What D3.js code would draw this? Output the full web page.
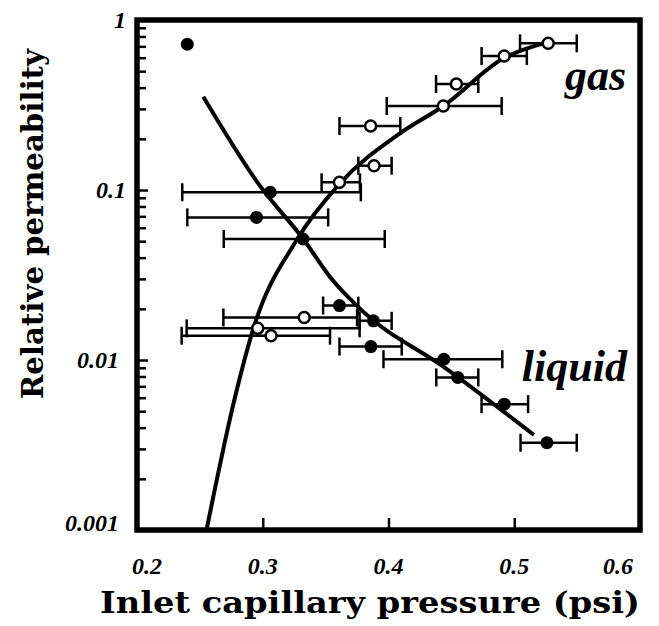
<!DOCTYPE html>
<html>
<head>
<meta charset="utf-8">
<script src="https://cdn.jsdelivr.net/npm/d3@7/dist/d3.min.js"></script>
<style>
  body { margin: 0; background: #fff; }
  svg { display: block; }
</style>
</head>
<body>
<div id="chart"></div>
<script>
// liquid relative permeability (filled circles) with x error bars
var liquidX  = [0.240, 0.306, 0.295, 0.332, 0.361, 0.388, 0.386, 0.444, 0.455, 0.492, 0.526];
var liquidY  = [0.72, 0.097, 0.069, 0.0515, 0.0209, 0.0170, 0.0120, 0.0101, 0.0079, 0.0055, 0.00326];
var liquidLo = [null, 0.236, 0.240, 0.269, 0.348, 0.377, 0.361, 0.396, 0.438, 0.474, 0.505];
var liquidHi = [null, 0.378, 0.352, 0.397, 0.376, 0.4025, 0.4105, 0.4905, 0.4714, 0.511, 0.5497];

// gas relative permeability (open circles) with x error bars
var gasX  = [0.527, 0.492, 0.454, 0.4436, 0.3858, 0.3885, 0.361, 0.333, 0.296, 0.3066];
var gasY  = [0.729, 0.614, 0.42, 0.312, 0.238, 0.139, 0.111, 0.0178, 0.01535, 0.0139];
var gasLo = [0.5046, 0.474, 0.4378, 0.3986, 0.361, 0.376, 0.3468, 0.2687, 0.2395, 0.2355];
var gasHi = [0.5497, 0.51, 0.4714, 0.49, 0.4094, 0.4025, 0.3773, 0.375, 0.377, 0.3535];

// fitted curves
var liquidFitX = [0.2527, 0.2978, 0.3322, 0.3535, 0.380, 0.4436, 0.5157];
var liquidFitY = [0.354, 0.1057, 0.0515, 0.0308, 0.0192, 0.00914, 0.00362];
var gasFitX = [0.2553, 0.2775, 0.293, 0.327, 0.3614, 0.4091, 0.4436, 0.4918, 0.5284];
var gasFitY = [0.001, 0.00585, 0.0157, 0.0508, 0.1094, 0.2153, 0.312, 0.597, 0.746];

// tick labels
var xTicks = [0.2, 0.3, 0.4, 0.5, 0.6];
var xTickLabels = ["0.2", "0.3", "0.4", "0.5", "0.6"];
var yTicks = [1, 0.1, 0.01, 0.001];
var yTickLabels = ["1", "0.1", "0.01", "0.001"];

var svg = d3.select("#chart")
	.append("svg")
	.attr("width", 659)
	.attr("height", 626);

var x = d3.scaleLinear()
	.domain([0.2, 0.6])
	.range([137, 640]);

var y = d3.scaleLog()
	.domain([0.001, 1])
	.range([530, 20]);

// minor ticks on the log axis
var minor = [];
[0.001, 0.01, 0.1].forEach(function(dec) {
	for (var k = 2; k <= 9; k++) minor.push(dec * k);
});

svg.append("g")
	.attr("transform", "translate(137,0)")
	.call(d3.axisRight(y).tickValues(minor).tickSize(9).tickFormat(""))
	.call(function(g) { g.select(".domain").remove(); })
	.selectAll("line").attr("stroke", "#000").attr("stroke-width", 2.5);

svg.append("g")
	.attr("transform", "translate(137,0)")
	.call(d3.axisRight(y).tickValues(yTicks).tickSize(11).tickFormat(""))
	.call(function(g) { g.select(".domain").remove(); })
	.selectAll("line").attr("stroke", "#000").attr("stroke-width", 2.5);

svg.append("g")
	.attr("transform", "translate(0,530)")
	.call(d3.axisTop(x).tickValues([0.3, 0.4, 0.5]).tickSize(12).tickFormat(""))
	.call(function(g) { g.select(".domain").remove(); })
	.selectAll("line").attr("stroke", "#000").attr("stroke-width", 2.5);

// frame
svg.append("rect")
	.attr("x", x(0.2))
	.attr("y", y(1))
	.attr("width", x(0.6) - x(0.2))
	.attr("height", y(0.001) - y(1))
	.attr("fill", "none")
	.attr("stroke", "#000")
	.attr("stroke-width", 5.5);

// tick labels
svg.selectAll(".ylab")
	.data(yTicks)
	.enter().append("text")
	.attr("x", function(d) { return d >= 0.1 ? 126 : 119; })
	.attr("y", function(d) { return d === 0.001 ? y(d) - 7 : y(d); })
	.attr("dy", "0.35em")
	.attr("text-anchor", "end")
	.style("font-family", "'Liberation Serif', serif")
	.style("font-weight", "bold")
	.style("font-style", "italic")
	.style("font-size", "24px")
	.text(function(d, i) { return yTickLabels[i]; });

svg.selectAll(".xlab")
	.data(xTicks)
	.enter().append("text")
	.attr("x", function(d, i) {
		if (i === 0) return x(d) + 10;
		if (i === xTicks.length - 1) return x(d) - 22;
		return x(d);
	})
	.attr("y", 574)
	.attr("text-anchor", "middle")
	.style("font-family", "'Liberation Serif', serif")
	.style("font-weight", "bold")
	.style("font-style", "italic")
	.style("font-size", "24px")
	.text(function(d, i) { return xTickLabels[i]; });

// axis titles
svg.append("text")
	.attr("x", 370)
	.attr("y", 613)
	.attr("text-anchor", "middle")
	.attr("textLength", 540)
	.attr("lengthAdjust", "spacingAndGlyphs")
	.style("font-family", "'DejaVu Serif', serif")
	.style("font-weight", "bold")
	.style("font-size", "29px")
	.text("Inlet capillary pressure (psi)");

svg.append("text")
	.attr("transform", "translate(43,224) rotate(-90)")
	.attr("text-anchor", "middle")
	.attr("textLength", 350)
	.attr("lengthAdjust", "spacingAndGlyphs")
	.style("font-family", "'DejaVu Serif', serif")
	.style("font-weight", "bold")
	.style("font-size", "29px")
	.text("Relative permeability");

// error bars
function errorBars(xs, ys, lo, hi) {
	var idx = d3.range(xs.length).filter(function(i) { return lo[i] !== null; });
	var g = svg.append("g").attr("stroke", "#000").attr("stroke-width", 2.5);
	g.selectAll(".bar").data(idx).enter().append("line")
		.attr("x1", function(i) { return x(lo[i]); })
		.attr("x2", function(i) { return x(hi[i]); })
		.attr("y1", function(i) { return y(ys[i]); })
		.attr("y2", function(i) { return y(ys[i]); });
	g.selectAll(".capl").data(idx).enter().append("line")
		.attr("x1", function(i) { return x(lo[i]); })
		.attr("x2", function(i) { return x(lo[i]); })
		.attr("y1", function(i) { return y(ys[i]) - 9; })
		.attr("y2", function(i) { return y(ys[i]) + 9; });
	g.selectAll(".caph").data(idx).enter().append("line")
		.attr("x1", function(i) { return x(hi[i]); })
		.attr("x2", function(i) { return x(hi[i]); })
		.attr("y1", function(i) { return y(ys[i]) - 9; })
		.attr("y2", function(i) { return y(ys[i]) + 9; });
}
errorBars(liquidX, liquidY, liquidLo, liquidHi);
errorBars(gasX, gasY, gasLo, gasHi);

// fitted curves
var line = d3.line()
	.x(function(d) { return x(d[0]); })
	.y(function(d) { return y(d[1]); })
	.curve(d3.curveMonotoneX);

svg.append("path")
	.attr("d", line(d3.zip(liquidFitX, liquidFitY)))
	.attr("fill", "none")
	.attr("stroke", "#000")
	.attr("stroke-width", 4);

svg.append("path")
	.attr("d", line(d3.zip(gasFitX, gasFitY)))
	.attr("fill", "none")
	.attr("stroke", "#000")
	.attr("stroke-width", 4);

// markers
svg.selectAll(".liq")
	.data(d3.zip(liquidX, liquidY))
	.enter().append("circle")
	.attr("cx", function(d) { return x(d[0]); })
	.attr("cy", function(d) { return y(d[1]); })
	.attr("r", 6.5)
	.attr("fill", "#000");

svg.selectAll(".gas")
	.data(d3.zip(gasX, gasY))
	.enter().append("circle")
	.attr("cx", function(d) { return x(d[0]); })
	.attr("cy", function(d) { return y(d[1]); })
	.attr("r", 5.5)
	.attr("fill", "#fff")
	.attr("stroke", "#000")
	.attr("stroke-width", 2.5);

// series labels
svg.append("text")
	.attr("x", 626)
	.attr("y", 90)
	.attr("text-anchor", "end")
	.style("font-family", "'Liberation Serif', serif")
	.style("font-weight", "bold")
	.style("font-style", "italic")
	.style("font-size", "44px")
	.text("gas");

svg.append("text")
	.attr("x", 627)
	.attr("y", 381)
	.attr("text-anchor", "end")
	.style("font-family", "'Liberation Serif', serif")
	.style("font-weight", "bold")
	.style("font-style", "italic")
	.style("font-size", "44px")
	.text("liquid");
</script>
</body>
</html>
